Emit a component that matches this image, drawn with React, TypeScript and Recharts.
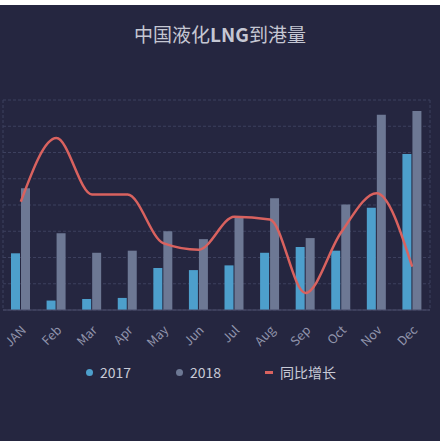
import React from 'react';
import { ComposedChart, Bar, Line, XAxis, YAxis, CartesianGrid, Legend } from 'recharts';

const months = ['JAN', 'Feb', 'Mar', 'Apr', 'May', 'Jun', 'Jul', 'Aug', 'Sep', 'Oct', 'Nov', 'Dec'];
const values2017 = [108, 18, 21, 23, 80, 76, 85, 109, 120, 113, 195, 297];
const values2018 = [232, 146, 109, 113, 150, 135, 177, 213, 137, 201, 372, 379];
const growth = [82.5, 131, 88, 88, 51, 46, 71, 69, 13, 59, 89, 33];
const leftTicks = [0, 50, 100, 150, 200, 250, 300, 350, 400];
const rightTicks = [0, 20, 40, 60, 80, 100, 120, 140, 160];

const data = months.map((m, i) => ({
  month: m,
  y2017: values2017[i],
  y2018: values2018[i],
  growth: growth[i],
}));

const BG = '#252640';
const C2017 = '#4d9fcc';
const C2018 = '#6d7894';
const CLINE = '#d9625f';
const FONT = '"Noto Sans CJK SC", "Noto Sans", sans-serif';

const XTick = (props: any) => {
  const { x, y, payload } = props;
  return (
    <g transform={`translate(${x + 6},${y + 13})`}>
      <text
        transform="rotate(-45)"
        textAnchor="end"
        fill="#9295ad"
        fontSize={12.5}
        fontFamily={FONT}
      >
        {payload.value}
      </text>
    </g>
  );
};

const LegendContent = () => {
  const items = [
    { label: '2017', color: C2017, type: 'circle', left: 83 },
    { label: '2018', color: C2018, type: 'circle', left: 173 },
    { label: '同比增长', color: CLINE, type: 'line', left: 262 },
  ];
  return (
    <div style={{ position: 'relative', width: 440, height: 20 }}>
      {items.map((it) => (
        <div
          key={it.label}
          style={{
            position: 'absolute',
            left: it.left,
            top: 0,
            height: 20,
            display: 'flex',
            alignItems: 'center',
            fontFamily: FONT,
            fontSize: 14,
            color: '#c8cad6',
            whiteSpace: 'nowrap',
          }}
        >
          {it.type === 'circle' ? (
            <span
              style={{
                display: 'inline-block',
                width: 7,
                height: 7,
                borderRadius: '50%',
                background: it.color,
                marginRight: 7,
              }}
            />
          ) : (
            <span
              style={{
                display: 'inline-block',
                width: 8,
                height: 3,
                background: it.color,
                marginRight: 7,
              }}
            />
          )}
          <span>{it.label}</span>
        </div>
      ))}
    </div>
  );
};

export default function App() {
  return (
    <div style={{ position: 'absolute', left: 0, top: 0, width: 440, height: 441, background: '#ffffff' }}>
      <div style={{ position: 'absolute', left: 0, top: 5, width: 440, height: 436, background: BG }}>
        <div
          style={{
            position: 'absolute',
            left: 0,
            top: 16,
            width: 440,
            textAlign: 'center',
            fontFamily: FONT,
            fontSize: 19,
            color: '#c5c7d3',
            lineHeight: '26px',
          }}
        >
          中国液化<b>LNG</b>到港量
        </div>
        <ComposedChart
          width={440}
          height={436}
          data={data}
          margin={{ top: 95, right: 10, left: 3, bottom: 59 }}
          barGap={1}
          barSize={9}
        >
          <CartesianGrid
            stroke="#3d405e"
            strokeDasharray="3 2"
            yAxisId="left"
            verticalCoordinatesGenerator={({ offset }: any) => [offset.left, offset.left + offset.width]}
          />
          <XAxis
            dataKey="month"
            height={52}
            interval={0}
            tickLine={false}
            axisLine={{ stroke: '#4a4d6a' }}
            tick={<XTick />}
          />
          <YAxis yAxisId="left" hide domain={[0, 400]} ticks={leftTicks} />
          <YAxis yAxisId="right" orientation="right" hide domain={[0, 160]} ticks={rightTicks} />
          <Bar yAxisId="left" dataKey="y2017" name="2017" fill={C2017} isAnimationActive={false} />
          <Bar yAxisId="left" dataKey="y2018" name="2018" fill={C2018} isAnimationActive={false} />
          <Line
            yAxisId="right"
            type="monotone"
            dataKey="growth"
            name="同比增长"
            stroke={CLINE}
            strokeWidth={2.5}
            dot={false}
            activeDot={false}
            isAnimationActive={false}
          />
          <Legend verticalAlign="bottom" height={20} content={<LegendContent />} />
        </ComposedChart>
      </div>
    </div>
  );
}
